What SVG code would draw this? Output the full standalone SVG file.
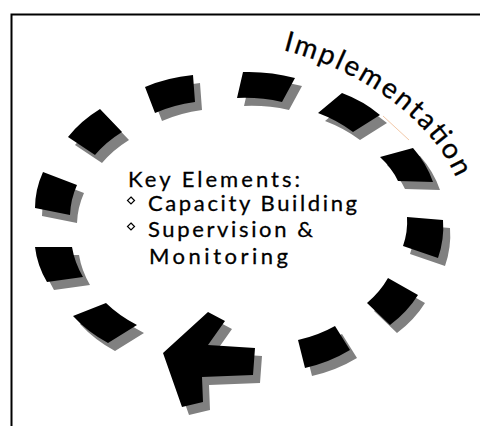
<svg xmlns="http://www.w3.org/2000/svg" xmlns:xlink="http://www.w3.org/1999/xlink" width="480" height="426" viewBox="0 0 480 426">
<style>
  .frame { fill: none; stroke: #000; stroke-width: 2; }
  .dash { fill: #000; }
  .shadow { fill: #808080; }
  .lbl { font-family: Lato, "Open Sans", "Liberation Sans", sans-serif; font-size: 22px; fill: #000; stroke: #000; stroke-width: 0.3; }
  .title { font-family: Lato, "Open Sans", "Liberation Sans", sans-serif; font-size: 28px; fill: #000; stroke: #000; stroke-width: 0.3; }
  .bullet { fill: #fff; stroke: #000; stroke-width: 1.2; }
</style>
<defs>
  <path id="dA" d="M145,87 Q167.1,77.5 193,75 L195,102 Q173.5,104.9 155,113 Z"/>
  <path id="dB" d="M243,72 Q269.6,71.1 295,78 L282,102 Q259.8,97 237,98 Z"/>
  <path id="dC" d="M342,93 Q363.8,101.1 380,115 L353,132 Q337.5,120.3 318,113 Z"/>
  <path id="dD" d="M413,148 Q426.8,163.7 433,182 L398,181 Q391.8,167.9 380,157 Z"/>
  <path id="dE" d="M443,220 Q444.5,239.3 438,258 L403,246 Q408,231.6 407,217 Z"/>
  <path id="dF" d="M418,295 Q407.5,311.9 390,325 L367,303 Q380.2,291.8 388,278 Z"/>
  <path id="dG" d="M350,350 Q329.6,362.4 305,368 L298,340 Q318.2,335.5 335,326 Z"/>
  <path id="dH" d="M108,343 Q87.2,331.7 73,316 L106,303 Q119.1,315.8 137,325 Z"/>
  <path id="dI" d="M47,282 Q37.1,265.3 35,247 L72,247 Q74.6,262.6 83,277 Z"/>
  <path id="dJ" d="M35,208 Q35.1,189.3 43,172 L77,185 Q70.5,199.6 70,215 Z"/>
  <path id="dK" d="M68,137 Q80.6,120.9 100,109 L122,132 Q105.9,142 95,155 Z"/>
  <path id="arrowShape" d="M163,353 L208,312 L225,321 L208,345 L255,348 L253,375 L202,377 L203,402 L182,407 Z"/>
  <path id="implPath" d="M283,50 C360,70 432,118 458,182" fill="none"/>
</defs>

<g id="frame">
  <rect class="frame" x="11.5" y="14.5" width="480" height="420"/>
</g>

<g id="connectors">
  <g id="dash-A"><use xlink:href="#dA" class="shadow" transform="translate(7,8)"/><use xlink:href="#dA" class="dash"/></g>
  <g id="dash-B"><use xlink:href="#dB" class="shadow" transform="translate(7,8)"/><use xlink:href="#dB" class="dash"/></g>
  <g id="dash-C"><use xlink:href="#dC" class="shadow" transform="translate(7,8)"/><use xlink:href="#dC" class="dash"/></g>
  <g id="dash-D"><use xlink:href="#dD" class="shadow" transform="translate(7,8)"/><use xlink:href="#dD" class="dash"/></g>
  <g id="dash-E"><use xlink:href="#dE" class="shadow" transform="translate(7,8)"/><use xlink:href="#dE" class="dash"/></g>
  <g id="dash-F"><use xlink:href="#dF" class="shadow" transform="translate(7,8)"/><use xlink:href="#dF" class="dash"/></g>
  <g id="dash-G"><use xlink:href="#dG" class="shadow" transform="translate(7,8)"/><use xlink:href="#dG" class="dash"/></g>
  <g id="dash-H"><use xlink:href="#dH" class="shadow" transform="translate(7,8)"/><use xlink:href="#dH" class="dash"/></g>
  <g id="dash-I"><use xlink:href="#dI" class="shadow" transform="translate(7,8)"/><use xlink:href="#dI" class="dash"/></g>
  <g id="dash-J"><use xlink:href="#dJ" class="shadow" transform="translate(7,8)"/><use xlink:href="#dJ" class="dash"/></g>
  <g id="dash-K"><use xlink:href="#dK" class="shadow" transform="translate(7,8)"/><use xlink:href="#dK" class="dash"/></g>
  <g id="arrow"><use xlink:href="#arrowShape" class="shadow" transform="translate(7,8)"/><use xlink:href="#arrowShape" class="dash"/></g>
  <line x1="383" y1="116" x2="409" y2="140" stroke="#f2c8a8" stroke-width="1"/>
</g>

<g id="implementation-label">
  <text class="title"><textPath xlink:href="#implPath" textLength="222" lengthAdjust="spacing">Implementation</textPath></text>
</g>

<g id="key-elements">
  <text class="lbl" x="128" y="187" textLength="172" lengthAdjust="spacing">Key Elements:</text>
  <path class="bullet" d="M131,197 L134.5,200.5 L131,204 L127.5,200.5 Z"/>
  <text class="lbl" x="148" y="211" textLength="209" lengthAdjust="spacing">Capacity Building</text>
  <path class="bullet" d="M131,223 L134.5,226.5 L131,230 L127.5,226.5 Z"/>
  <text class="lbl" x="148" y="237" textLength="165" lengthAdjust="spacing">Supervision &amp;</text>
  <text class="lbl" x="149" y="264" textLength="139" lengthAdjust="spacing">Monitoring</text>
</g>
</svg>
